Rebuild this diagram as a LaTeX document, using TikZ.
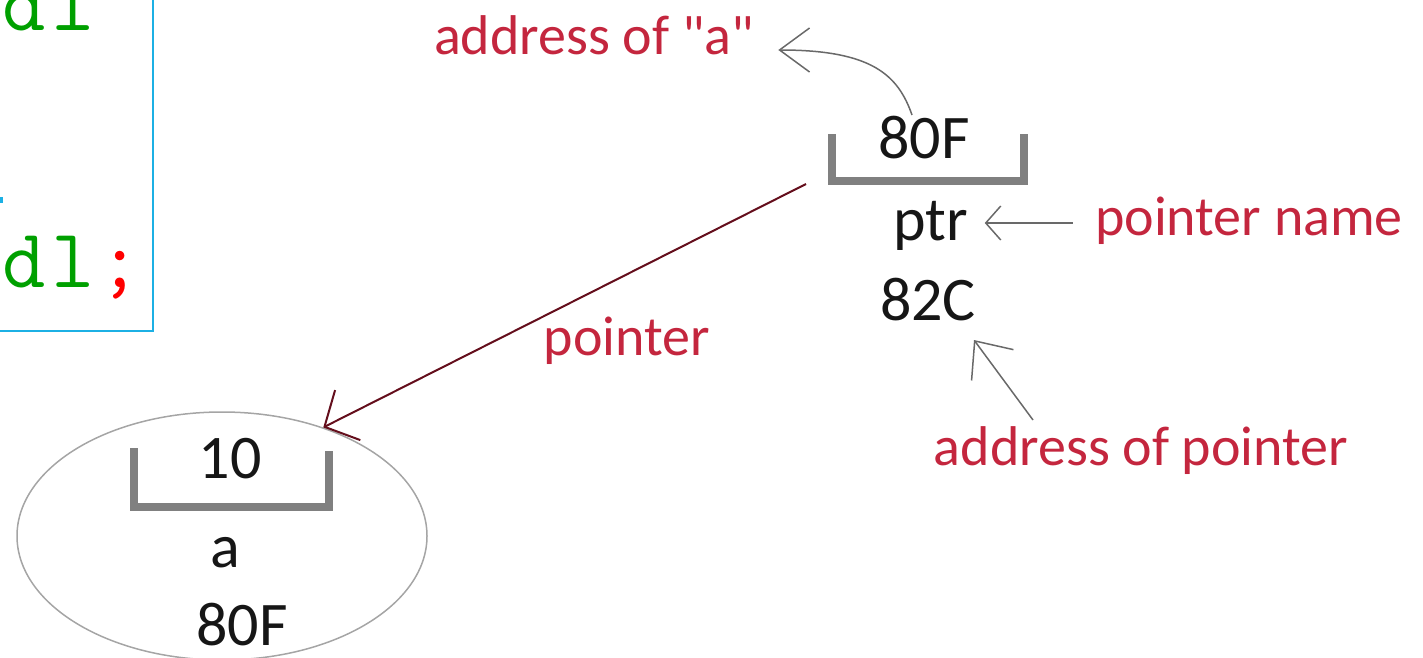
\documentclass[tikz,border=0pt]{standalone}
\usepackage{fontspec}
\setmainfont{Carlito}
\usetikzlibrary{arrows.meta,shapes.geometric}
\definecolor{lblred}{RGB}{196,38,62}
\definecolor{ink}{RGB}{22,22,22}
\definecolor{brk}{RGB}{128,128,128}
\definecolor{thingray}{RGB}{105,105,105}
\definecolor{ellgray}{RGB}{165,165,165}
\definecolor{ptrred}{RGB}{100,14,28}
\definecolor{codegreen}{RGB}{0,160,0}
\definecolor{codecyan}{RGB}{28,176,228}
\definecolor{codered}{RGB}{255,0,0}
\begin{document}
\begin{tikzpicture}[x=0.5pt,y=-0.5pt,
  val/.style={inner sep=0pt,anchor=base,text=ink,font=\fontsize{31}{31}\selectfont},
  lbl/.style={inner sep=0pt,anchor=base,text=lblred,font=\fontsize{28}{28}\selectfont},
  code/.style={inner sep=0pt,anchor=base west,text=codegreen,font=\ttfamily\fontsize{42}{42}\selectfont},
  bracket/.style={draw=brk,line width=4pt},
  note/.style={draw=thingray,line width=0.75pt},
]
\useasboundingbox (0,0) rectangle (1423,658);

% code box (cropped)
\draw[codecyan,line width=1.25pt] (-40,-40) rectangle (153,331);
\node[code] (code1) at (2,31) {d\kern3pt l};
\node[code] (code2) at (2,287) {d\kern3pt l\kern2pt\textcolor{codered}{;}};
\fill[codecyan] (0,197) rectangle (3,203);

% pointer variable
\draw[bracket] (832,134) -- (832,181) -- (1024,181) -- (1024,134);
\node[val] (ptrval) at (924,158) {80F};
\node[val] (ptr) at (931,240) {ptr};
\node[val] (ptraddr) at (928,320) {82C};

% variable a
\node[draw=ellgray,line width=0.75pt,ellipse,inner sep=0pt,minimum width=205pt,minimum height=124pt] (ell) at (222,536) {};
\draw[bracket] (134,448) -- (134,507) -- (329,507) -- (329,451);
\node[val] (aval) at (230,478) {10};
\node[val] (aname) at (225,567) {a};
\node[val] (aaddr) at (242,645) {80F};

% labels
\node[lbl] (lbladdra) at (594,55) {address of \textquotedbl a\textquotedbl};
\node[lbl] (lblpname) at (1249,235) {pointer name};
\node[lbl] (lblpointer) at (627,355) {pointer};
\node[lbl] (lbladdrp) at (1141,465) {address of pointer};

% connectors
\coordinate (a80top) at (912,115);
\draw[note,-{Straight Barb[length=15pt,width=22pt]}] (a80top) .. controls (898,75) and (872,50) .. ([xshift=12pt]lbladdra.east |- 0,50);
\draw[note,-{Straight Barb[length=7.5pt,width=17pt]}] ([xshift=-11pt]lblpname.west |- 0,223) -- ([xshift=8pt]ptr.east |- 0,223);
\coordinate (addrptail) at (1033,420);
\coordinate (addrptip) at (974,340);
\draw[note,-{Straight Barb[length=15pt,width=26pt]}] (addrptail) -- (addrptip);
\coordinate (ptrcorner) at (806,184);
\draw[ptrred,line width=1pt,-{Straight Barb[length=13pt,width=28pt]}] (ptrcorner) -- (ell.47);
\end{tikzpicture}
\end{document}
